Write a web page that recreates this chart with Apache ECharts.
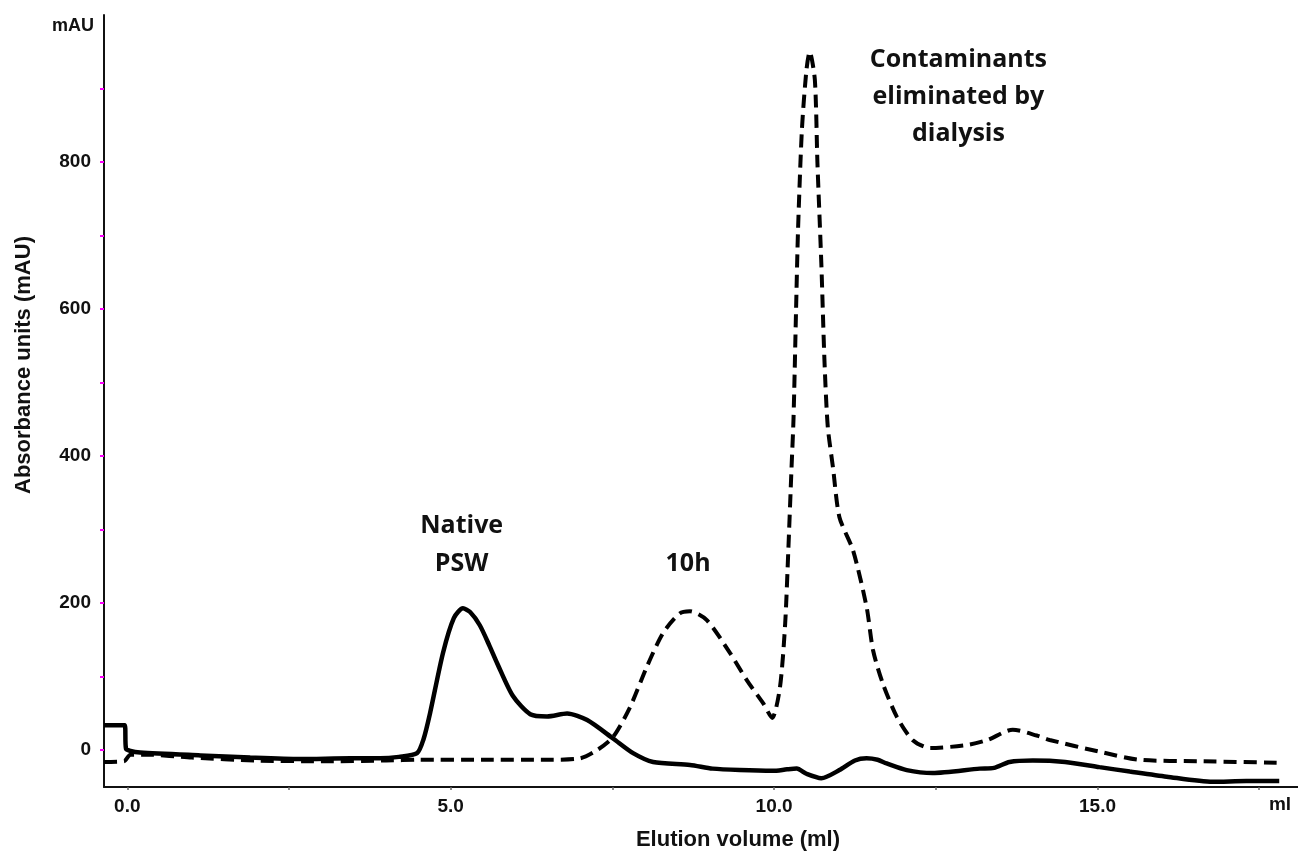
<!DOCTYPE html>
<html>
<head>
<meta charset="utf-8">
<script src="https://cdn.jsdelivr.net/npm/echarts@6/dist/echarts.min.js"></script>
<style>
  html, body { margin: 0; padding: 0; background: #fff; }
  #chart { width: 1298px; height: 852px; }
</style>
</head>
<body>
<div id="chart"></div>
<script>
// Native PSW trace (solid)
const nativeVolume = [-0.36, -0.04, -0.02, 0.05, 0.2, 1.13, 1.9, 2.67, 3.45, 3.91, 4.2, 4.48, 4.58, 4.68, 4.88, 5.05, 5.19, 5.3, 5.45, 5.6, 5.72, 5.96, 6.23, 6.49, 6.8, 7.11, 7.51, 7.82, 8.13, 8.7, 9.05, 9.47, 9.98, 10.2, 10.35, 10.5, 10.73, 11.01, 11.25, 11.43, 11.6, 11.74, 12.05, 12.45, 13.18, 13.4, 13.64, 14.0, 14.5, 15.03, 15.5, 16.07, 16.78, 17.3, 17.81];
const nativeAbs = [34, 34, 2, -1, -3, -7, -10, -12, -11, -11, -9, -4, 15, 50, 132, 180, 193, 188, 170, 142, 118, 74, 49, 46, 50, 41, 16, -4, -16, -20, -25, -27, -28, -26, -25, -32, -38, -27, -14, -11, -13, -18, -27, -31, -25, -24, -16, -14, -16, -23, -29, -36, -43, -42, -42];

// 10h trace (dashed)
const tenHVolume = [-0.36, -0.05, 0.05, 0.3, 1.0, 2.0, 3.0, 4.0, 4.5, 5.5, 6.5, 7.0, 7.26, 7.51, 7.77, 8.03, 8.28, 8.54, 8.7, 8.96, 9.32, 9.58, 9.83, 9.97, 10.09, 10.17, 10.22, 10.27, 10.3, 10.34, 10.37, 10.43, 10.5, 10.55, 10.63, 10.67, 10.73, 10.78, 10.83, 10.91, 11.01, 11.22, 11.43, 11.53, 11.68, 11.9, 12.14, 12.41, 12.98, 13.3, 13.69, 14.06, 14.26, 15.03, 15.65, 16.58, 17.81];
const tenHAbs = [-16, -15, -6, -6, -10, -14, -15, -14, -13, -13, -13, -11, 0, 18, 58, 113, 159, 186, 189, 177, 132, 95, 64, 44, 85, 170, 272, 385, 450, 600, 707, 844, 925, 950, 912, 799, 663, 527, 440, 385, 317, 272, 195, 136, 91, 45, 14, 3, 7, 14, 28, 20, 14, -2, -13, -15, -17];

const xTicks = [0, 2.5, 5, 7.5, 10, 12.5, 15, 17.5];
const xLabels = [0, 5, 10, 15];
const yTicks = [0, 100, 200, 300, 400, 500, 600, 700, 800, 900];
const yLabels = [0, 200, 400, 600, 800];

const annotations = [
  { text: "Native", x: 5.17, y: 305 },
  { text: "PSW", x: 5.17, y: 253 },
  { text: "10h", x: 8.67, y: 253 },
  { text: "Contaminants", x: 12.85, y: 939 },
  { text: "eliminated by", x: 12.85, y: 888 },
  { text: "dialysis", x: 12.85, y: 838 },
];

const pairs = (xs, ys) => xs.map((x, i) => [x, ys[i]]);

const chart = echarts.init(document.getElementById("chart"), null, { renderer: "canvas" });

const tickFont = { color: "#111", fontSize: 19, fontWeight: "bold", fontFamily: "Liberation Sans" };

chart.setOption({
  animation: false,
  grid: { left: 104, right: 0, top: 15, bottom: 65, containLabel: false },
  xAxis: {
    type: "value",
    min: -0.36,
    max: 18.1,
    axisLine: { show: true, onZero: false, lineStyle: { color: "#111", width: 2 } },
    axisTick: { show: true, customValues: xTicks, length: 3, lineStyle: { color: "#666", width: 1.5 } },
    axisLabel: { customValues: xLabels, margin: 10, formatter: (v) => v.toFixed(1), ...tickFont },
    splitLine: { show: false },
  },
  yAxis: {
    type: "value",
    min: -50,
    max: 1000,
    axisLine: { show: true, onZero: false, lineStyle: { color: "#111", width: 2 } },
    axisTick: { show: true, customValues: yTicks, length: 4, lineStyle: { color: "#ff00ff", width: 2 } },
    axisLabel: { customValues: yLabels, margin: 13, ...tickFont },
    splitLine: { show: false },
  },
  series: [
    {
      name: "10h",
      type: "line",
      data: pairs(tenHVolume, tenHAbs),
      showSymbol: false,
      smooth: 0.25,
      z: 2,
      lineStyle: { color: "#000", width: 4, type: [13, 7] },
    },
    {
      name: "Native PSW",
      type: "line",
      data: pairs(nativeVolume, nativeAbs),
      showSymbol: false,
      smooth: 0.25,
      z: 3,
      lineStyle: { color: "#000", width: 4.5 },
    },
  ],
});

// text labels: annotations placed from data coordinates, axis captions at fixed spots
const annoFont = "bold 25px 'Open Sans'";
const captionFont = "bold 22px 'Liberation Sans'";
const graphics = annotations.map((a) => {
  const [px, py] = chart.convertToPixel({ gridIndex: 0 }, [a.x, a.y]);
  return {
    type: "text",
    x: px,
    y: py,
    style: { text: a.text, font: annoFont, fill: "#111", textAlign: "center", textVerticalAlign: "middle" },
  };
});
graphics.push(
  { type: "text", x: 73, y: 26, style: { text: "mAU", font: "bold 18px 'Liberation Sans'", fill: "#111", textAlign: "center", textVerticalAlign: "middle" } },
  { type: "text", x: 1280, y: 805, style: { text: "ml", font: "bold 19px 'Liberation Sans'", fill: "#111", textAlign: "center", textVerticalAlign: "middle" } },
  { type: "text", x: 738, y: 840, style: { text: "Elution volume (ml)", font: captionFont, fill: "#111", textAlign: "center", textVerticalAlign: "middle" } },
  { type: "text", x: 24, y: 365, rotation: Math.PI / 2, style: { text: "Absorbance units (mAU)", font: captionFont, fill: "#111", textAlign: "center", textVerticalAlign: "middle" } }
);
chart.setOption({ graphic: graphics });
</script>
</body>
</html>
